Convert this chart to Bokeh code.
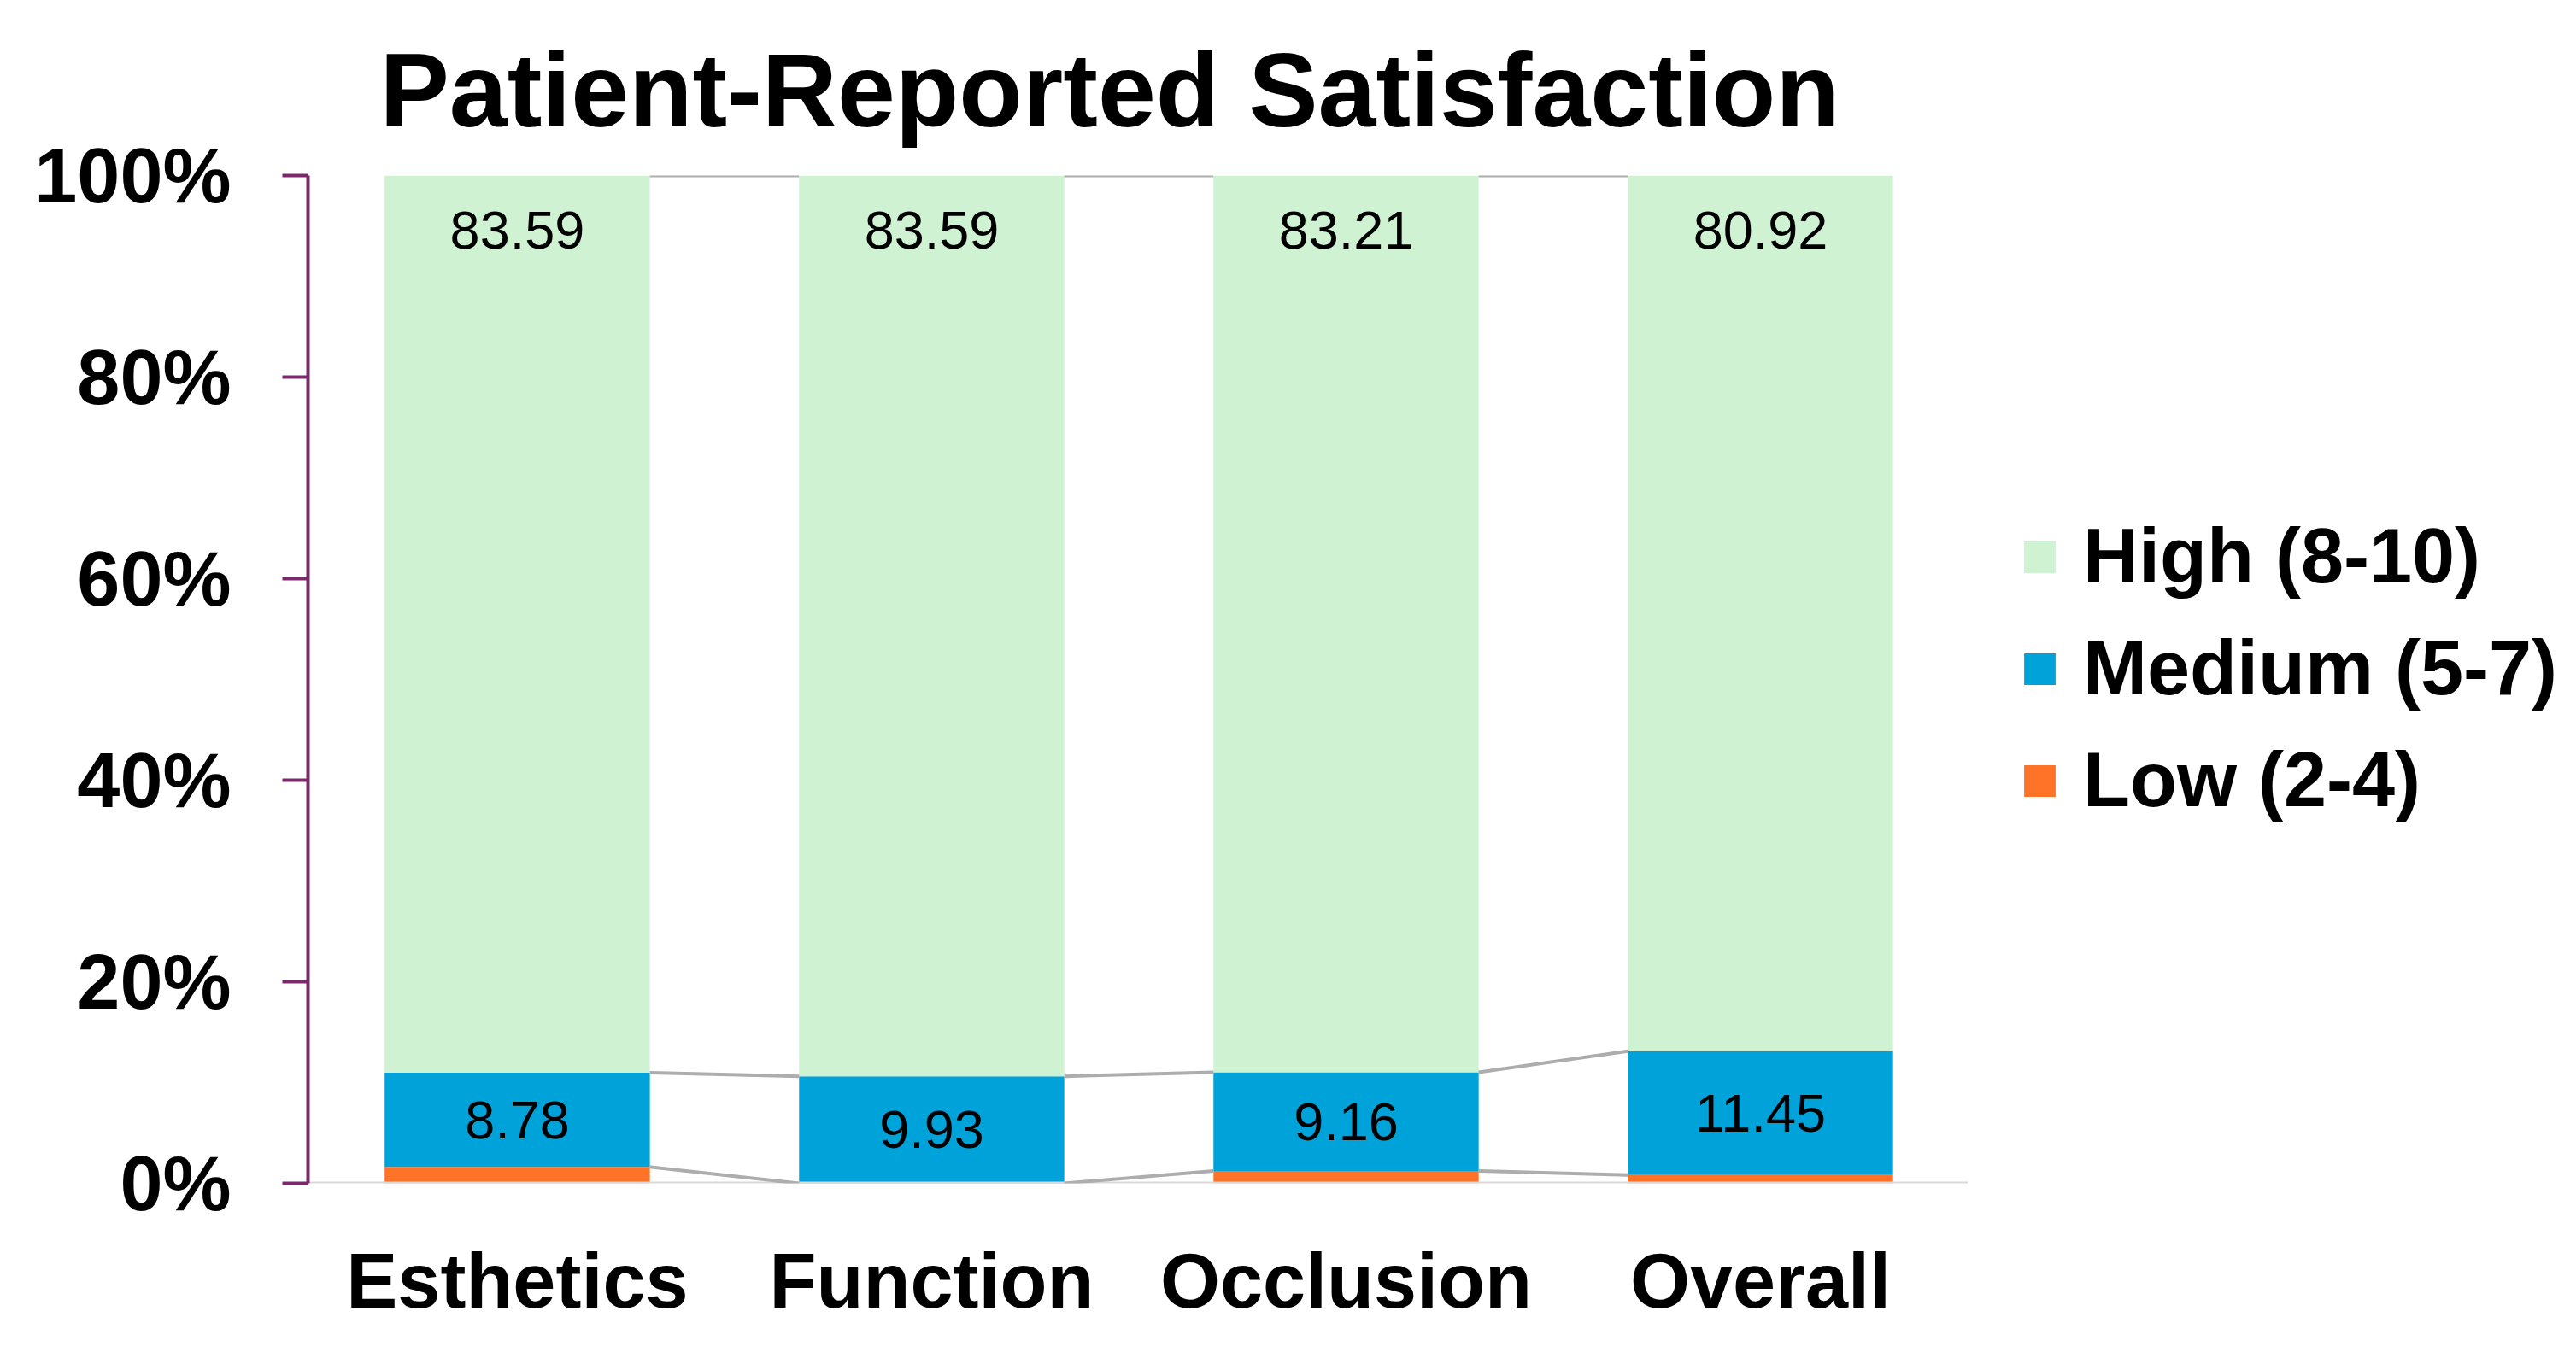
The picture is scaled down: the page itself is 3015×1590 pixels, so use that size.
from bokeh.core.properties import value
from bokeh.embed import file_html
from bokeh.models import ColumnDataSource, FixedTicker, Legend, LegendItem
from bokeh.plotting import figure
from bokeh.resources import INLINE

# scores in % of patients (labels as printed on the chart)
categories = ["Esthetics", "Function", "Occlusion", "Overall"]
high = [83.59, 83.59, 83.21, 80.92]
medium = [8.78, 9.93, 9.16, 11.45]
low = [1.53, 0.00, 1.15, 0.76]  # not labelled

series = ["Low (2-4)", "Medium (5-7)", "High (8-10)"]
colors = ["#FF7328", "#00A2DA", "#CFF2D3"]
y_ticks = [0, 20, 40, 60, 80, 100]

# 100% stacked: each bar is rescaled to its own total
xs = list(range(len(categories)))
totals = [h + m + l for h, m, l in zip(high, medium, low)]
low_s = [l / t * 100 for l, t in zip(low, totals)]
med_s = [m / t * 100 for m, t in zip(medium, totals)]
high_s = [h / t * 100 for h, t in zip(high, totals)]

source = ColumnDataSource(data=dict(x=xs, low=low_s, med=med_s, high=high_s))

FONT = value("Liberation Sans")
BAR_W = 0.64
X0 = -0.505
X1 = 4.936  # room on the right for the legend

p = figure(width=2999, height=1574, x_range=(X0, X1), y_range=(0, 100),
           output_backend="svg", toolbar_location=None,
           min_border_left=360, min_border_right=0,
           min_border_top=205, min_border_bottom=189)
p.outline_line_color = None
p.xgrid.visible = False
p.ygrid.visible = False

bars = p.vbar_stack(["low", "med", "high"], x="x", width=BAR_W, color=colors,
                    line_color=None, source=source)

# baseline under the categories only
p.segment(x0=[X0], y0=[0], x1=[xs[-1] + 0.5], y1=[0],
          line_color="#D9D9D9", line_width=4)

# series lines between neighbouring bars (like Excel)
cum_low = low_s
cum_med = [a + b for a, b in zip(low_s, med_s)]
cum_high = [a + b + c for a, b, c in zip(low_s, med_s, high_s)]
for tops in (cum_low, cum_med, cum_high):
    p.segment(x0=[x + BAR_W / 2 for x in xs[:-1]], y0=tops[:-1],
              x1=[x - BAR_W / 2 for x in xs[1:]], y1=tops[1:],
              line_color="#ADADAD", line_width=4)

# data labels
p.text(x=xs, y=cum_high, text=[f"{v:.2f}" for v in high], text_font=FONT,
       text_font_size="63px", text_align="center", text_baseline="middle",
       y_offset=64, text_color="black")
p.text(x=xs, y=[l + m / 2 for l, m in zip(low_s, med_s)],
       text=[f"{v:.2f}" for v in medium], text_font=FONT,
       text_font_size="63px", text_align="center", text_baseline="middle",
       text_color="black")

# y axis
p.yaxis.ticker = FixedTicker(ticks=y_ticks)
p.yaxis.major_label_overrides = {t: f"{t}%" for t in y_ticks}
p.yaxis.axis_line_color = "#7A2A6A"
p.yaxis.axis_line_width = 4
p.yaxis.major_tick_line_color = "#7A2A6A"
p.yaxis.major_tick_line_width = 4
p.yaxis.major_tick_out = 30
p.yaxis.major_tick_in = 0
p.yaxis.minor_tick_line_color = None
p.yaxis.major_label_standoff = 60
p.yaxis.major_label_text_font = "Liberation Sans"
p.yaxis.major_label_text_font_style = "bold"
p.yaxis.major_label_text_font_size = "90px"
p.yaxis.major_label_text_color = "black"

# x axis
p.xaxis.ticker = FixedTicker(ticks=xs)
p.xaxis.major_label_overrides = {i: c for i, c in zip(xs, categories)}
p.xaxis.axis_line_color = None
p.xaxis.major_tick_line_color = None
p.xaxis.minor_tick_line_color = None
p.xaxis.major_label_standoff = 58
p.xaxis.major_label_text_font = "Liberation Sans"
p.xaxis.major_label_text_font_style = "bold"
p.xaxis.major_label_text_font_size = "90px"
p.xaxis.major_label_text_color = "black"

# title
p.title.text = "Patient-Reported Satisfaction"
p.title.text_font = "Liberation Sans"
p.title.text_font_style = "bold"
p.title.text_font_size = "122px"
p.title.text_color = "black"
p.title.align = "left"
p.title.offset = 84
p.title.standoff = 64

# legend, high on top
items = [LegendItem(label=series[i], renderers=[bars[i]]) for i in (2, 1, 0)]
legend = Legend(items=items, location=(2004, 420), orientation="vertical",
                padding=10, border_line_color=None, background_fill_alpha=0,
                glyph_width=46, glyph_height=46, label_standoff=28,
                label_height=46, spacing=28,
                label_text_font="Liberation Sans", label_text_font_style="bold",
                label_text_font_size="90px", label_text_color="black")
p.add_layout(legend)

open("out.html", "w").write(file_html(p, INLINE))
